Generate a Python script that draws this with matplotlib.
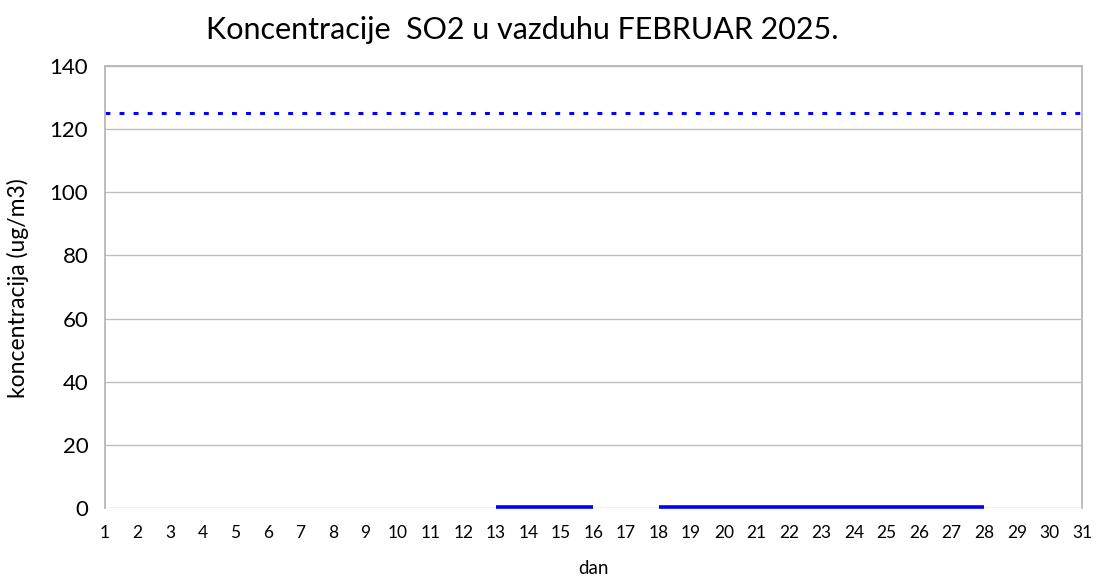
import numpy as np
import matplotlib
matplotlib.use("Agg")
import matplotlib.pyplot as plt

plt.rcParams["font.family"] = ["Lato", "DejaVu Sans"]

days = list(range(1, 32))
# SO2 daily concentration, measured only on some days (NaN = no data)
so2 = [np.nan] * 12 + [0.3, 0.3, 0.3, 0.3] + [np.nan] + [0.3] * 11 + [np.nan] * 3
limit_value = 125

fig, ax = plt.subplots(figsize=(10.99, 5.83), dpi=100)
fig.subplots_adjust(left=0.0955, right=0.9845, top=0.887, bottom=0.1286)

ax.plot(days, [limit_value] * len(days), color="#0000ff", lw=2.2,
        linestyle=(0, (1.6, 3.0)))
ax.plot(days, so2, color="#0000ff", lw=2.6, solid_capstyle="butt",
        clip_on=False, zorder=5)

ax.set_xlim(1, 31)
ax.set_ylim(0, 140)
ax.set_xticks(days)
ax.set_yticks(range(0, 141, 20))
ax.tick_params(axis="x", labelsize=12.5, length=0, pad=12)
ax.tick_params(axis="y", labelsize=16, length=0, pad=12)
ax.yaxis.grid(True, color="#bfbfbf", lw=1)
ax.set_axisbelow(True)
for side in ["left", "right", "top", "bottom"]:
    ax.spines[side].set_color("#b8b8b8")
    ax.spines[side].set_linewidth(1.3)
ax.spines["bottom"].set_visible(False)

fig.text(0.475, 0.949, "Koncentracije  SO2 u vazduhu FEBRUAR 2025.",
         fontsize=22, ha="center", va="center")
ax.set_xlabel("dan", fontsize=13.5, labelpad=14)
fig.text(0.0164, 0.506, "koncentracija (ug/m3)", fontsize=16.5,
         rotation=90, ha="center", va="center")

fig.savefig("out.png", dpi=100)
